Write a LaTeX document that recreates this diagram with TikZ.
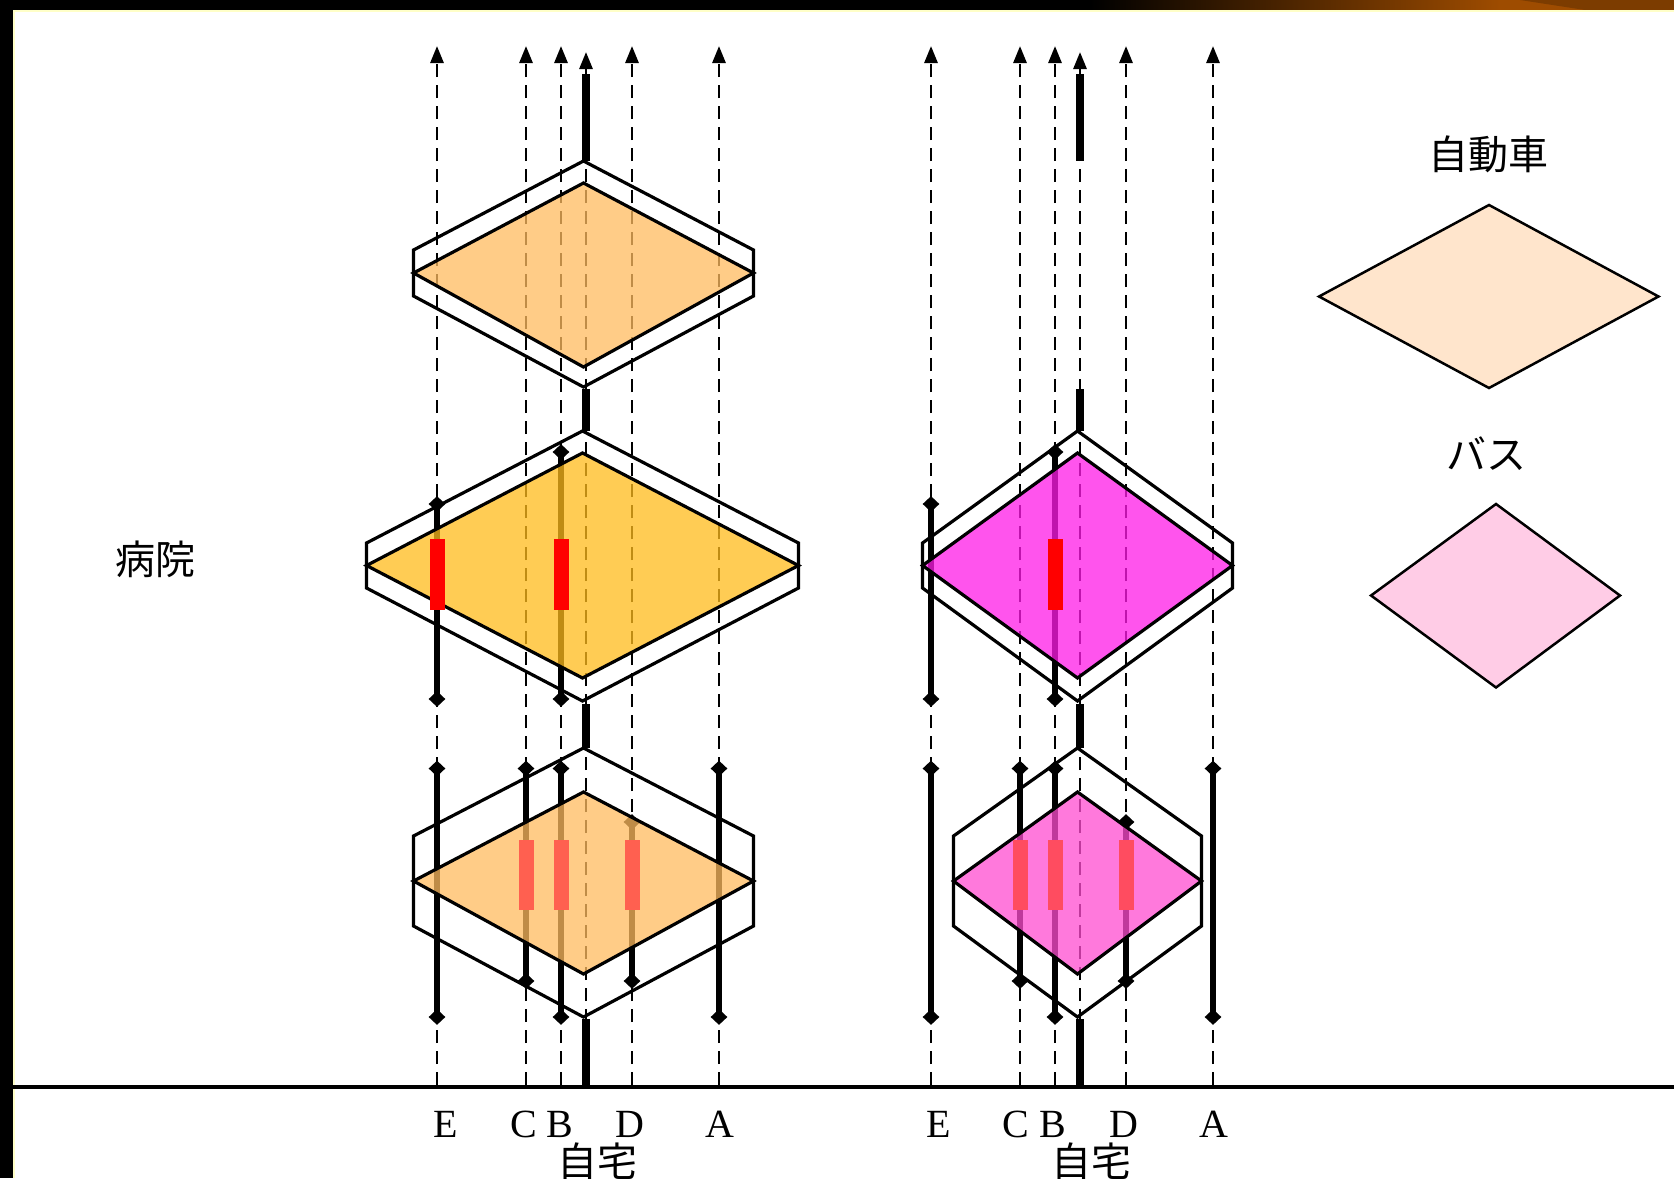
\documentclass[tikz,border=0pt]{standalone}
\usepackage{fontspec}
\setmainfont{Liberation Serif}
\newfontfamily\jpfont{Noto Sans CJK JP}
\usetikzlibrary{arrows.meta,shapes.geometric}
\definecolor{carfill}{HTML}{FFBB60}
\definecolor{hospfill}{HTML}{FFBB1C}
\definecolor{busfill}{HTML}{FF1CE8}
\definecolor{busfillb}{HTML}{FF4DD1}
\definecolor{legcar}{HTML}{FFE5CC}
\definecolor{legbus}{HTML}{FFCCE6}
\definecolor{redb}{HTML}{FF6050}
\definecolor{redbb}{HTML}{FF4C60}
\definecolor{bandorange}{HTML}{9E4C00}
\definecolor{banddark}{HTML}{7C3C00}
\definecolor{paleline}{HTML}{FFFFC8}
\newcommand{\drawflatbox}[9]{%
  \fill[#1] (#2,#8) -- ({#2+#3},{(#5+#6)/2}) -- (#2,#9) -- ({#2-#3},{(#5+#6)/2}) -- cycle;
  \draw[outline] (#2,#4) -- ({#2+#3},#5) -- ({#2+#3},#6) -- (#2,#7) -- ({#2-#3},#6) -- ({#2-#3},#5) -- cycle;
  \draw[outline] (#2,#8) -- ({#2+#3},{(#5+#6)/2}) -- (#2,#9) -- ({#2-#3},{(#5+#6)/2}) -- cycle;
}
\begin{document}
\begin{tikzpicture}[x=0.5pt,y=-0.5pt,
  dashline/.style={line width=1.4pt,dash pattern=on 6.5pt off 4pt},
  uparrow/.style={-{Triangle[length=8.5pt,width=6.5pt]}},
  thickseg/.style={line width=4pt},
  solidseg/.style={line width=2.6pt},
  mk/.style={diamond,fill=black,inner sep=0pt,minimum width=8.5pt,minimum height=8pt},
  outline/.style={line width=1.6pt,line join=miter},
  legend/.style={draw=black,line width=1.25pt},
  redmark/.style={rectangle,fill=red,inner sep=0pt,minimum width=7.5pt,minimum height=35.5pt},
  redmarkb/.style={rectangle,inner sep=0pt,minimum width=7.5pt,minimum height=34.75pt},
  carbox/.style={fill=carfill,fill opacity=0.75},
  hospbox/.style={fill=hospfill,fill opacity=0.75},
  busbox/.style={fill=busfill,fill opacity=0.75},
  busboxb/.style={fill=busfillb,fill opacity=0.75},
  jplabel/.style={font=\jpfont\fontsize{20pt}{24pt}\selectfont,inner sep=0pt},
  letter/.style={font=\fontsize{20pt}{24pt}\selectfont,inner sep=0pt,anchor=base}]
\useasboundingbox (0,0) rectangle (1674,1178);
% slide background and frame
\fill[white] (0,0) rectangle (1674,1178);
\fill[black] (0,0) rectangle (1090,10);
\shade[left color=black,right color=bandorange] (1090,0) rectangle (1500,10);
\fill[bandorange] (1500,0) rectangle (1674,10);
\fill[banddark] (1520,0) -- (1674,0) -- (1674,10) -- (1585,10) -- cycle;
\fill[black] (0,0) rectangle (12.5,1178);
\fill[paleline] (12.5,10) rectangle (1674,12);
\fill[paleline] (12.5,10) rectangle (15,1178);
% dashed columns with arrows
\foreach \g/\m in {L/586,R/1080}{
  \foreach \c/\o in {E/-149,C/-60,B/-25,D/46,A/133}{
    \coordinate (\g\c0) at (\m+\o,1085);
    \coordinate (\g\c1) at (\m+\o,46);
    \draw[dashline,uparrow] (\g\c0) -- (\g\c1);
  }
  \coordinate (\g M0) at (\m,1085);
  \coordinate (\g M1) at (\m,52);
  \draw[dashline,uparrow] (\g M0) -- (\g M1);
  % middle level markers
  \node[mk] (\g mEt) at (\m-149,504) {};
  \node[mk] (\g mEb) at (\m-149,699) {};
  \node[mk] (\g mBt) at (\m-25,452) {};
  \node[mk] (\g mBb) at (\m-25,699) {};
  \draw[solidseg] (\g mEt.center) -- (\g mEb.center);
  \draw[solidseg] (\g mBt.center) -- (\g mBb.center);
  % bottom level markers
  \foreach \c/\o/\t/\b in {E/-149/768.5/1017,C/-60/768.5/981,B/-25/768.5/1017,D/46/822/981,A/133/768.5/1017}{
    \node[mk] (\g b\c t) at (\m+\o,\t) {};
    \node[mk] (\g b\c b) at (\m+\o,\b) {};
    \draw[solidseg] (\g b\c t.center) -- (\g b\c b.center);
  }
  % thick centre segments
  \coordinate (\g t1) at (\m,74);
  \coordinate (\g t2) at (\m,161);
  \coordinate (\g t3) at (\m,389);
  \coordinate (\g t4) at (\m,431);
  \coordinate (\g t5) at (\m,704);
  \coordinate (\g t6) at (\m,748);
  \coordinate (\g t7) at (\m,1019);
  \coordinate (\g t8) at (\m,1087);
  \draw[thickseg] (\g t1) -- (\g t2);
  \draw[thickseg] (\g t3) -- (\g t4);
  \draw[thickseg] (\g t5) -- (\g t6);
  \draw[thickseg] (\g t7) -- (\g t8);
}
% boxes
\drawflatbox{carbox}{583.5}{170}{161}{250}{296}{387}{183}{367}
\drawflatbox{hospbox}{582.5}{216}{431}{543}{588}{701}{453}{678}
\drawflatbox{carbox}{583.5}{170}{748}{836}{926}{1017}{792}{974}
\drawflatbox{busbox}{1077.5}{155}{431}{543}{588}{701}{453}{678}
\drawflatbox{busboxb}{1077.5}{124}{748}{836}{926}{1017}{792}{974}
% red marks
\node[redmark] (LrE) at (437,574.5) {};
\node[redmark] (LrB) at (561,574.5) {};
\node[redmark] (RrB) at (1055,574.5) {};
\node[redmarkb,fill=redb] (LbrC) at (526,874.75) {};
\node[redmarkb,fill=redb] (LbrB) at (561,874.75) {};
\node[redmarkb,fill=redb] (LbrD) at (632,874.75) {};
\node[redmarkb,fill=redbb] (RbrC) at (1020,874.75) {};
\node[redmarkb,fill=redbb] (RbrB) at (1055,874.75) {};
\node[redmarkb,fill=redbb] (RbrD) at (1126,874.75) {};
% ground line
\coordinate (g0) at (12.5,1087);
\coordinate (g1) at (1674,1087);
\draw[line width=2pt] (g0) -- (g1);
% legend
\draw[legend,fill=legcar] (1489,205) -- (1658.5,296.5) -- (1489,388) -- (1319,296.5) -- cycle;
\draw[legend,fill=legbus] (1496,504) -- (1620,595.5) -- (1496,687.5) -- (1371,595.5) -- cycle;
\node[jplabel] (carlab) at (1488,154) {自動車};
\node[jplabel] (buslab) at (1486,454) {バス};
\node[jplabel] (hosp) at (155,559) {病院};
% home labels
\node[jplabel] (homeL) at (597,1161) {自宅};
\node[jplabel] (homeR) at (1091,1161) {自宅};
\node[letter] (lE) at (445.5,1137) {E};
\node[letter] (lC) at (523.5,1137) {C};
\node[letter] (lB) at (559.5,1137) {B};
\node[letter] (lD) at (630,1137) {D};
\node[letter] (lA) at (720,1137) {A};
\node[letter] (rE) at (938.5,1137) {E};
\node[letter] (rC) at (1016,1137) {C};
\node[letter] (rB) at (1053,1137) {B};
\node[letter] (rD) at (1124,1137) {D};
\node[letter] (rA) at (1214,1137) {A};
\end{tikzpicture}
\end{document}
